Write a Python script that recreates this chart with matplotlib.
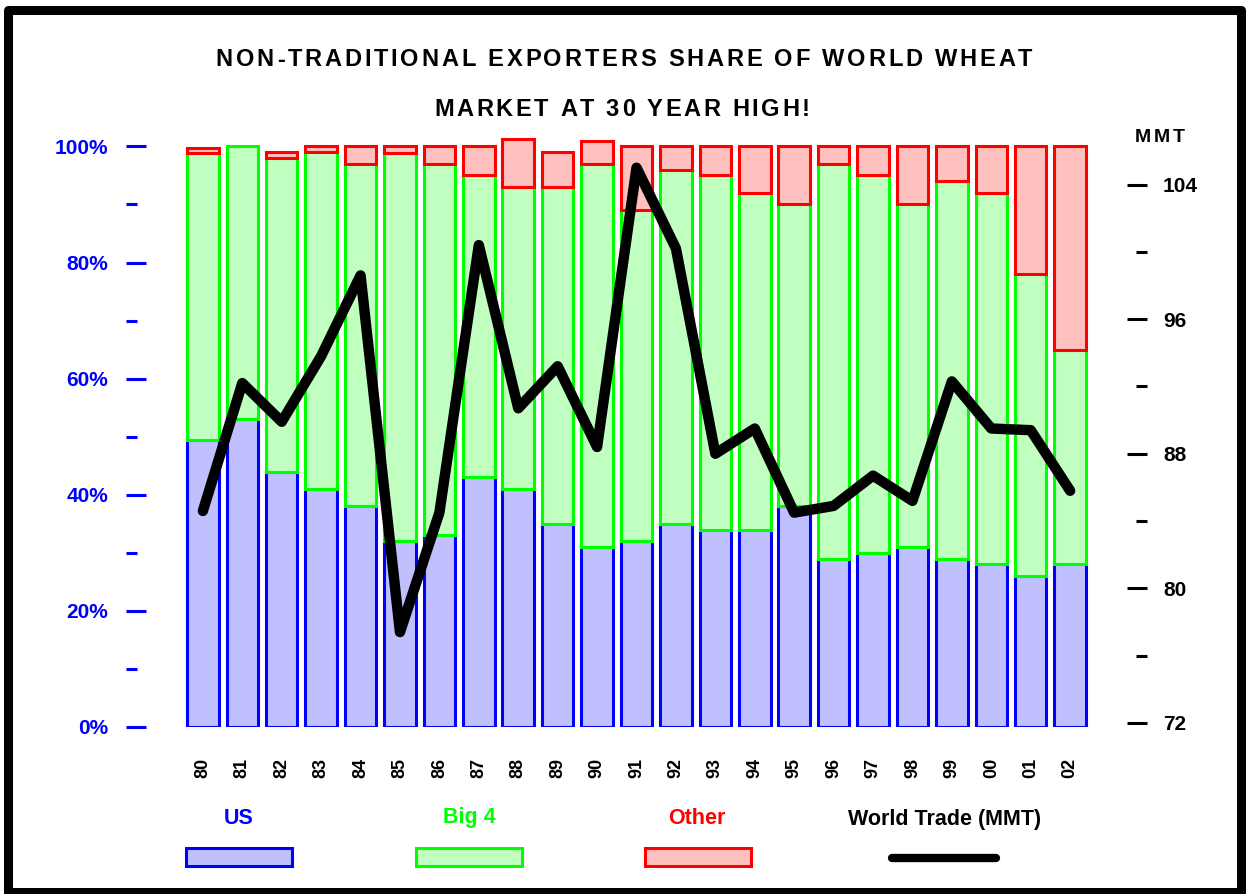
import numpy as np
import matplotlib
matplotlib.use('Agg')
import matplotlib.pyplot as plt
from matplotlib.patches import Rectangle
from matplotlib.lines import Line2D

plt.rcParams['font.family'] = ['Liberation Sans', 'DejaVu Sans']
plt.rcParams['font.weight'] = 'bold'

years = ['80', '81', '82', '83', '84', '85', '86', '87', '88', '89', '90', '91',
         '92', '93', '94', '95', '96', '97', '98', '99', '00', '01', '02']
us = [49.5, 53, 44, 41, 38, 32, 33, 43, 41, 35, 31, 32, 35, 34, 34, 38, 29, 30, 31, 29, 28, 26, 28]
big4 = [49.3, 47, 54, 58, 59, 66.8, 64, 52, 52, 58, 66, 57, 61, 61, 58, 52, 68, 65, 59, 65, 64, 52, 37]
other = [0.9, 0, 1, 1, 3, 1.2, 3, 5, 8.2, 6, 4, 11, 4, 5, 8, 10, 3, 5, 10, 6, 8, 22, 35]
trade = [84.6, 92.2, 89.9, 93.8, 98.6, 77.4, 84.5, 100.4, 90.7, 93.2, 88.4, 105.0,
         100.2, 88.0, 89.5, 84.5, 84.9, 86.7, 85.2, 92.3, 89.5, 89.4, 85.8]

W, H = 1247, 894
fig = plt.figure(figsize=(W / 100, H / 100), dpi=100)
renderer = fig.canvas.get_renderer()

def fx(px):
    return px / W

def fy(py):
    return 1 - py / H

def spaced_text(xc, yc, s, size, track, **kw):
    # lay out chars one by one with extra tracking (pixels), centred on xc
    widths = []
    for ch in s:
        t = fig.text(0, 0, ch, fontsize=size, fontweight='bold')
        widths.append(t.get_window_extent(renderer).width)
        t.remove()
    total = sum(widths) + track * (len(s) - 1)
    xpos = xc - total / 2
    for ch, w in zip(s, widths):
        fig.text(fx(xpos), fy(yc), ch, fontsize=size, fontweight='bold', ha='left', va='center', **kw)
        xpos += w + track

ax = fig.add_axes([fx(126), fy(727), fx(1147) - fx(126), fy(129) - fy(727)])
x = np.arange(len(years))
us = np.array(us)
big4 = np.array(big4)
other = np.array(other)

bw = 0.8
elw = 2.2
ax.bar(x, us, bw, color='#c0c0ff', edgecolor='#0000ff', linewidth=elw, zorder=2)
ax.bar(x, big4, bw, bottom=us, color='#c0ffc0', edgecolor='#00ff00', linewidth=elw, zorder=3)
ax.bar(x, other, bw, bottom=us + big4, color='#ffc0c0', edgecolor='#ff0000',
       linewidth=[elw if o > 0 else 0 for o in other], zorder=4)

ax.set_xlim(-1.95, len(years) - 1 + 1.95)
ax.set_ylim(0, 103)
for s in ax.spines.values():
    s.set_visible(False)
ax.set_yticks(np.arange(0, 101, 20))
ax.set_yticks(np.arange(10, 100, 20), minor=True)
ax.set_yticklabels(['%d%%' % v for v in range(0, 101, 20)])
ax.tick_params(axis='y', which='major', direction='in', length=14.4, width=2.2,
               color='#0000ff', labelcolor='#0000ff', labelsize=15, pad=13)
ax.tick_params(axis='y', which='minor', direction='in', length=8, width=2.2, color='#0000ff')
ax.set_xticks(x)
ax.set_xticklabels(years, rotation=90, fontsize=13, fontweight='bold')
ax.tick_params(axis='x', length=0, pad=22)
for t in ax.get_yticklabels():
    t.set_fontweight('bold')

ax2 = ax.twinx()
ax2.plot(x, trade, color='black', linewidth=7.5, solid_joinstyle='round',
         solid_capstyle='round', zorder=5)
ax2.set_ylim(71.76, 107.3)
for s in ax2.spines.values():
    s.set_visible(False)
ax2.set_yticks([72, 80, 88, 96, 104])
ax2.set_yticks([76, 84, 92, 100], minor=True)
ax2.tick_params(axis='y', which='major', direction='in', length=14.4, width=2.2,
                color='black', labelsize=15, pad=11.5)
ax2.tick_params(axis='y', which='minor', direction='in', length=8, width=2.2, color='black')
for t in ax2.get_yticklabels():
    t.set_fontweight('bold')

spaced_text(1160, 138, 'MMT', 14, 3)

# title
spaced_text(624, 60, 'NON-TRADITIONAL EXPORTERS SHARE OF WORLD WHEAT', 17, 2.8)
spaced_text(622, 110, 'MARKET AT 30 YEAR HIGH!', 17, 2.6)

# legend
leg = [('US', '#0000ff', '#c0c0ff', 239, 186),
       ('Big 4', '#00ff00', '#c0ffc0', 469, 416),
       ('Other', '#ff0000', '#ffc0c0', 697, 645)]
for lab, ec, fc, tx, rx in leg:
    fig.text(fx(tx), fy(818), lab, color=ec, ha='center', va='center', fontsize=15.5, fontweight='bold')
    fig.add_artist(Rectangle((fx(rx), fy(866)), fx(106), 18 / H, transform=fig.transFigure,
                             facecolor=fc, edgecolor=ec, linewidth=2.2))
fig.text(fx(945), fy(820), 'World Trade (MMT)', ha='center', va='center', fontsize=15.5, fontweight='bold')
fig.add_artist(Line2D([fx(892), fx(996)], [fy(858), fy(858)], transform=fig.transFigure,
                      color='black', linewidth=6, solid_capstyle='round'))

# outer frame
fig.add_artist(Rectangle((fx(7.5), fy(892)), fx(1241) - fx(7.5), fy(9.5) - fy(892),
                         transform=fig.transFigure, fill=False, edgecolor='black',
                         linewidth=6.5, joinstyle='round'))

fig.savefig('out.png', dpi=100)
